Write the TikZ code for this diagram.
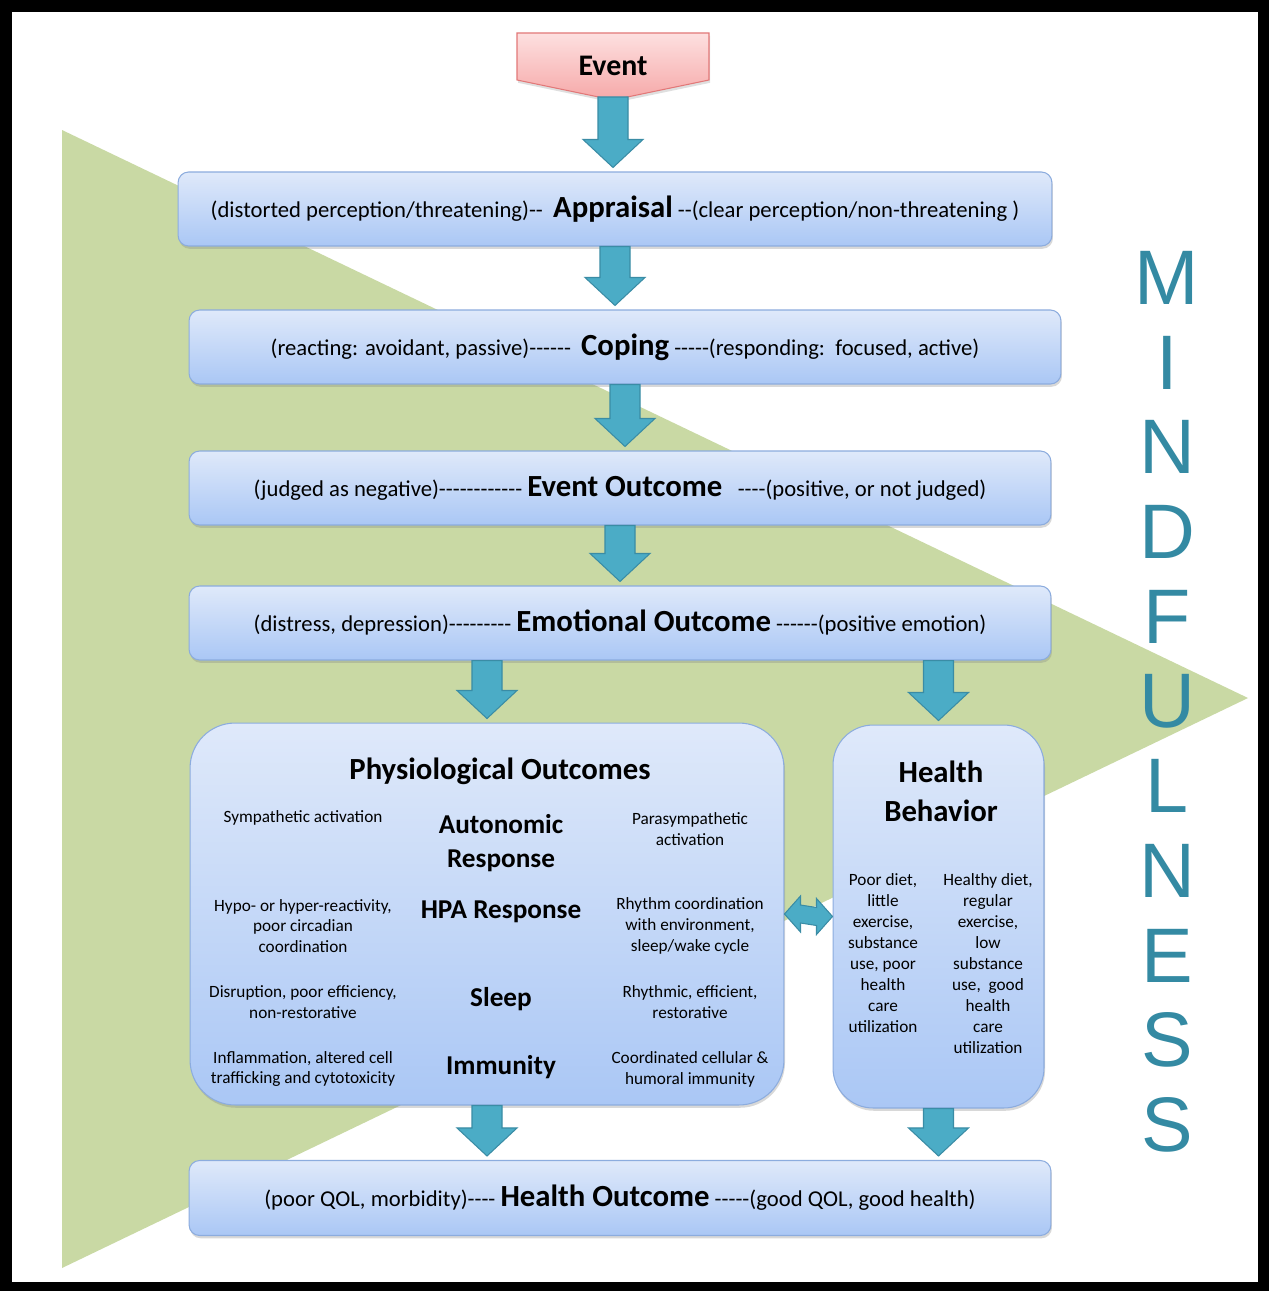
\documentclass[tikz,border=0pt]{standalone}
\usepackage{fontspec}
\newfontfamily\carlito{Carlito}
\newfontfamily\arialike{Liberation Sans}
\usetikzlibrary{calc,positioning,shadows}
\definecolor{boxtop}{RGB}{223,233,250}
\definecolor{boxbot}{RGB}{170,199,245}
\definecolor{boxline}{RGB}{140,172,222}
\definecolor{arrowfill}{RGB}{75,172,198}
\definecolor{arrowline}{RGB}{58,140,165}
\definecolor{eventtop}{RGB}{253,224,224}
\definecolor{eventbot}{RGB}{246,168,168}
\definecolor{eventline}{RGB}{226,120,120}
\definecolor{mindgreen}{RGB}{201,217,164}
\definecolor{mindteal}{RGB}{52,138,163}
\newcommand{\sidetxt}{\carlito\fontsize{12.9}{15}\selectfont}
\newcommand{\keytxt}{\carlito\bfseries\fontsize{17.5}{21}\selectfont}
\tikzstyle{box} = [draw=boxline, line width=0.6pt, top color=boxtop, bottom color=boxbot, rounded corners=6pt, drop shadow={opacity=0.3, shadow xshift=0.6pt, shadow yshift=-1.6pt}]
\tikzstyle{wide box} = [box, minimum height=1.48cm, inner sep=0pt, font=\sidetxt]
\tikzstyle{event shape} = [draw=eventline, line width=0.6pt, top color=eventtop, bottom color=eventbot, drop shadow={opacity=0.25, shadow xshift=0.6pt, shadow yshift=-1.6pt}]
\tikzstyle{block} = [draw=arrowline, fill=arrowfill, line width=0.6pt, line join=miter]
\tikzstyle{title} = [font=\carlito\bfseries\fontsize{17.5}{22}\selectfont, align=center]
\tikzstyle{sub head} = [font=\carlito\bfseries\fontsize{15.5}{19.5}\selectfont, align=center]
\tikzstyle{detail} = [font=\carlito\fontsize{9.8}{11.9}\selectfont, align=center]
\tikzstyle{letter} = [text=mindteal, inner sep=0pt, font=\arialike\fontsize{44}{44}\selectfont]
% block arrow pointing down from #1 to the top of #2
\newcommand{\blockarrow}[2]{%
  \draw[block] ($(#1)+(-15,0)$) -- ($(#1)+(15,0)$) -- ($(#1|-#2)+(15,-32)$) -- ($(#1|-#2)+(30,-32)$)
    -- ($(#1|-#2)+(0,-4)$) -- ($(#1|-#2)+(-30,-32)$) -- ($(#1|-#2)+(-15,-32)$) -- cycle;}

\begin{document}
\begin{tikzpicture}[x=0.02cm,y=-0.02cm]
        \useasboundingbox (0,0) rectangle (1269,1291);
        % frame
        \fill[black] (0,0) rectangle (1269,1291);
        \fill[white] (12,12) rectangle (1258,1282);
        % mindfulness triangle
        \fill[mindgreen] (62,130) -- (1248,698) -- (62,1268) -- cycle;
        \foreach \ch [count=\i from 0] in {M,I,N,D,F,U,L,N,E,S,S} {
        	\node[letter] (mind\i) at (1167,278+84.7*\i) {\ch};
        }
        
        % event
        \draw[event shape] (517,33) -- (709,33) -- (709,80) -- (613,100) -- (517,80) -- cycle;
        \node[font=\carlito\bfseries\fontsize{17}{20}\selectfont] (event) at (613,66) {Event};
        \coordinate (eventtip) at (613,97);
        
        % process boxes
        \node[wide box, minimum width=17.48cm] (appraisal) at (615,209)
        	{(distorted perception/threatening)--\ \ {\keytxt Appraisal}\ --(clear perception/non-threatening )};
        \node[wide box, minimum width=17.44cm] (coping) at (625,347)
        	{(reacting: avoidant, passive)------\ \ {\keytxt Coping}\ -----(responding:\ \ focused, active)};
        \node[wide box, minimum width=17.24cm] (evout) at (620,488)
        	{(judged as negative)------------\ {\keytxt Event Outcome}\ \ \ ----(positive, or not judged)};
        \node[wide box, minimum width=17.24cm] (emot) at (620,623)
        	{(distress, depression)---------\ {\keytxt Emotional Outcome}\ ------(positive emotion)};
        \node[wide box, minimum width=17.24cm, minimum height=1.5cm] (hout) at (620,1198)
        	{(poor QOL, morbidity)----\ {\keytxt Health Outcome}\ -----(good QOL, good health)};
        
        % physiological outcomes
        \node[box, rounded corners=0.9cm, minimum width=11.88cm, minimum height=7.64cm] (phys) at (487,914) {};
        \node[title] (phystitle) at (500,771) {Physiological Outcomes};
        \node[sub head] (auto) at (501,843) {Autonomic\\Response};
        \node[detail] (autoneg) at (303,818) {Sympathetic activation};
        \node[detail] (autopos) at (690,829) {Parasympathetic\\activation};
        \node[sub head] (hpa) at (501,912) {HPA Response};
        \node[detail] (hpaneg) at (303,926) {Hypo- or hyper-reactivity,\\poor circadian\\coordination};
        \node[detail] (hpapos) at (690,926) {Rhythm coordination\\with environment,\\sleep/wake cycle};
        \node[sub head] (sleep) at (501,999) {Sleep};
        \node[detail] (sleepneg) at (303,1002) {Disruption, poor efficiency,\\non-restorative};
        \node[detail] (sleeppos) at (690,1002) {Rhythmic, efficient,\\restorative};
        \node[sub head] (immune) at (501,1067) {Immunity};
        \node[detail] (immuneneg) at (303,1069) {Inflammation, altered cell\\trafficking and cytotoxicity};
        \node[detail] (immunepos) at (690,1069) {Coordinated cellular \&\\humoral immunity};
        
        % health behavior
        \node[box, rounded corners=0.8cm, minimum width=4.22cm, minimum height=7.66cm] (habit) at (938.5,916.5) {};
        \node[title] (habittitle) at (941,791) {Health\\Behavior};
        \node[detail] (habitneg) at (883,953) {Poor diet,\\little\\exercise,\\substance\\use, poor\\health\\care\\utilization};
        \node[detail] (habitpos) at (988,963.5) {Healthy diet,\\regular\\exercise,\\low\\substance\\use,\ \ good\\health\\care\\utilization};
        
        % arrows
        \blockarrow{eventtip}{appraisal.north}
        \blockarrow{appraisal.south}{coping.north}
        \blockarrow{coping.south}{evout.north}
        \blockarrow{evout.south}{emot.north}
        \coordinate (physin) at (emot.south -| phys.north);
        \coordinate (habitin) at (emot.south -| habit.north);
        \blockarrow{physin}{phys.north}
        \blockarrow{habitin}{habit.north}
        \blockarrow{phys.south}{hout.north}
        \blockarrow{habit.south}{hout.north}
        % two way arrow
        \draw[block] (phys.east) -- ++(16,-18) -- ++(0,9) -- ($(habit.west)+(-16,-9)$) -- ++(0,-9) -- (habit.west)
        	-- ++(-16,18) -- ++(0,-9) -- ($(phys.east)+(16,9)$) -- ++(0,9) -- cycle;
\end{tikzpicture}
\end{document}
